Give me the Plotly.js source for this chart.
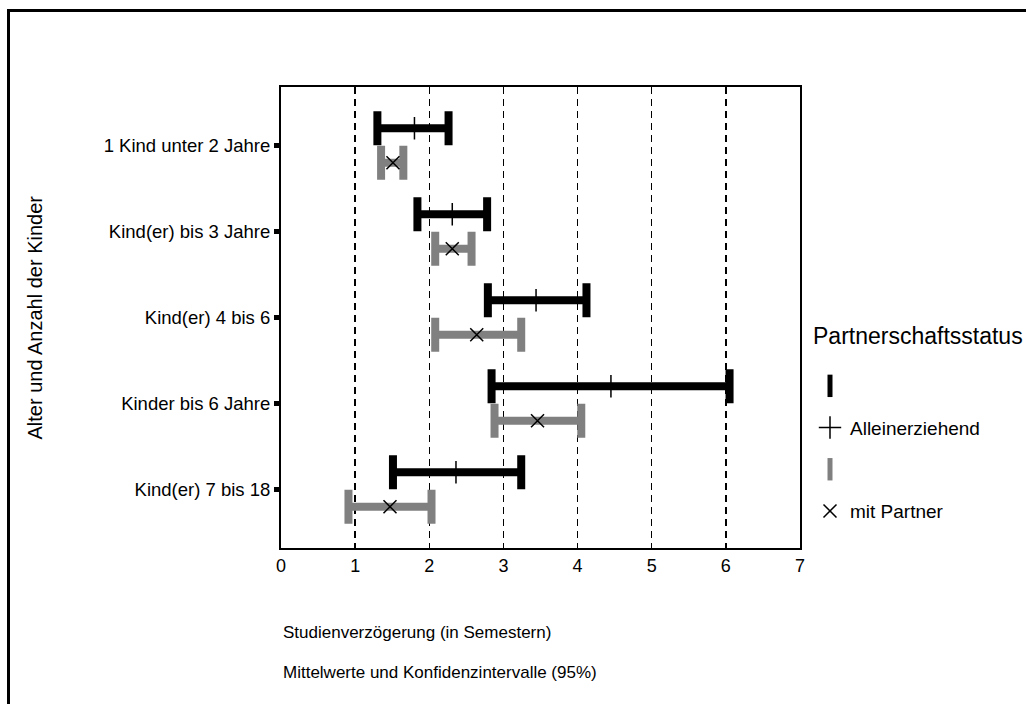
<!DOCTYPE html>
<html>
<head>
<meta charset="utf-8">
<script src="https://cdn.plot.ly/plotly-3.0.1.min.js"></script>
<style>
  html, body { margin: 0; padding: 0; background: #fff; overflow: hidden; }
  #chart { width: 1026px; height: 704px; }
  #frame { position: absolute; left: 7px; top: 9px; width: 3000px; height: 3000px;
           border-top: 3px solid #000; border-left: 3px solid #000; pointer-events: none; }
</style>
</head>
<body>
<div id="chart"></div>
<div id="frame"></div>
<script>
// ---- data ----
const categories = ["1 Kind unter 2 Jahre", "Kind(er) bis 3 Jahre", "Kind(er) 4 bis 6", "Kinder bis 6 Jahre", "Kind(er) 7 bis 18"];
const aloneMean   = [1.80, 2.31, 3.44, 4.45, 2.36];
const aloneLow    = [1.30, 1.84, 2.79, 2.84, 1.51];
const aloneHigh   = [2.26, 2.78, 4.12, 6.05, 3.24];
const partnerMean = [1.51, 2.31, 2.64, 3.46, 1.47];
const partnerLow  = [1.35, 2.08, 2.08, 2.88, 0.91];
const partnerHigh = [1.65, 2.57, 3.24, 4.05, 2.03];
const xTicks = [0, 1, 2, 3, 4, 5, 6, 7];
const legendTitle = "Partnerschaftsstatus";
const nameAlone = "Alleinerziehend";
const namePartner = "mit Partner";
const xTitle1 = "Studienverzögerung (in Semestern)";
const xTitle2 = "Mittelwerte und Konfidenzintervalle (95%)";
const yTitle = "Alter und Anzahl der Kinder";

const FONT = "'Liberation Sans', Arial, sans-serif";
const idx = categories.map((c, i) => i);
const OFF = 0.2;

function errs(mean, lo, hi) {
  return {
    plus: mean.map((m, i) => hi[i] - m),
    minus: mean.map((m, i) => m - lo[i])
  };
}
const eA = errs(aloneMean, aloneLow, aloneHigh);
const eP = errs(partnerMean, partnerLow, partnerHigh);

const traces = [
  { // legend icon for black interval
    x: [null], y: [null], type: 'scatter', mode: 'markers', name: '', legendgroup: 'a0',
    marker: { symbol: 'line-ns-open', size: 16, color: '#000', line: { color: '#000', width: 5 } },
    hoverinfo: 'skip'
  },
  {
    x: aloneMean, y: idx.map(i => i - OFF), type: 'scatter', mode: 'markers', name: nameAlone, legendgroup: 'a1',
    marker: { symbol: 'cross-thin-open', size: 16, color: '#000', line: { color: '#000', width: 1.5 } },
    error_x: { type: 'data', symmetric: false, array: eA.plus, arrayminus: eA.minus,
               color: '#000', thickness: 8, width: 17 }
  },
  {
    x: [null], y: [null], type: 'scatter', mode: 'markers', name: '', legendgroup: 'p0',
    marker: { symbol: 'line-ns-open', size: 16, color: '#808080', line: { color: '#808080', width: 5 } },
    hoverinfo: 'skip'
  },
  {
    x: partnerMean, y: idx.map(i => i + OFF), type: 'scatter', mode: 'markers', name: namePartner, legendgroup: 'p1',
    marker: { symbol: 'x-thin-open', size: 13, color: '#000', line: { color: '#000', width: 1.5 } },
    error_x: { type: 'data', symmetric: false, array: eP.plus, arrayminus: eP.minus,
               color: '#808080', thickness: 8, width: 17 }
  }
];

const layout = {
  width: 1026, height: 704,
  margin: { l: 281, r: 226, t: 87, b: 156 },
  paper_bgcolor: '#fff', plot_bgcolor: '#fff',
  font: { family: FONT, color: '#000', size: 17 },
  showlegend: true,
  legend: {
    x: (810 - 281) / 519, xanchor: 'left', y: (548 - 367) / 461, yanchor: 'top',
    traceorder: 'grouped', tracegroupgap: 14,
    font: { size: 19, family: FONT }, bgcolor: 'rgba(0,0,0,0)'
  },
  xaxis: {
    range: [0, 7], tickvals: xTicks, ticktext: xTicks.map(String),
    showgrid: true, gridcolor: '#000', gridwidth: 1.5, griddash: '7px,5px',
    zeroline: false, showline: true, linecolor: '#000', linewidth: 2, mirror: true,
    ticks: '', tickfont: { size: 18, family: FONT }
  },
  yaxis: {
    range: [4.68, -0.68], tickvals: idx, ticktext: categories,
    showgrid: false, zeroline: false, showline: true, linecolor: '#000', linewidth: 2, mirror: true,
    ticks: 'outside', ticklen: 5, tickwidth: 5, tickcolor: '#000',
    tickfont: { size: 18.5, family: FONT }
  },
  annotations: [
    { text: legendTitle, xref: 'paper', yref: 'paper', x: (811 - 281) / 519, xanchor: 'left',
      y: (548 - 336) / 461, yanchor: 'middle', showarrow: false, font: { size: 23, family: FONT } },
    { text: xTitle1, xref: 'paper', yref: 'paper', x: 0, xanchor: 'left', y: (548 - 632) / 461, yanchor: 'middle',
      showarrow: false, font: { size: 17, family: FONT } },
    { text: xTitle2, xref: 'paper', yref: 'paper', x: 0, xanchor: 'left', y: (548 - 672) / 461, yanchor: 'middle',
      showarrow: false, font: { size: 17, family: FONT } },
    { text: yTitle, xref: 'paper', yref: 'paper', x: (34 - 281) / 519, xanchor: 'center', y: 0.5, yanchor: 'middle',
      textangle: -90, showarrow: false, font: { size: 20, family: FONT } }
  ]
};

Plotly.newPlot('chart', traces, layout, { displayModeBar: false, staticPlot: true });
</script>
</body>
</html>
